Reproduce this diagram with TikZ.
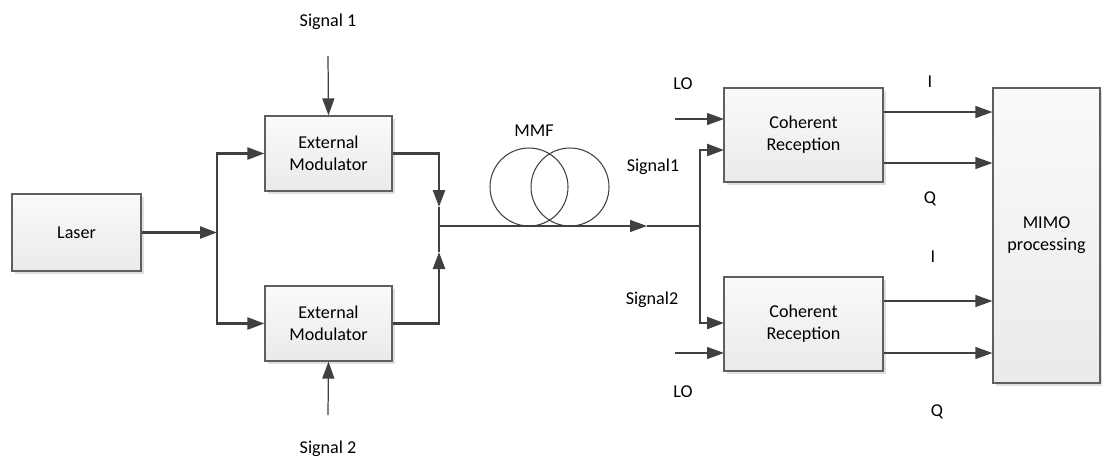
\documentclass[tikz,border=0pt]{standalone}
\usepackage{fontspec}
\setmainfont{Carlito}
\usetikzlibrary{arrows.meta,shadows}
\definecolor{linegray}{RGB}{64,64,64}
\definecolor{boxedge}{RGB}{95,95,95}
\definecolor{boxtop}{RGB}{250,250,250}
\definecolor{boxbottom}{RGB}{234,234,234}

\begin{document}
\begin{tikzpicture}[x=0.02cm, y=-0.02cm,
  >={Triangle[length=0.34cm, width=0.24cm]},
  font=\fontsize{10.3}{12.4}\selectfont,
  block/.style={draw=boxedge, line width=0.7pt, top color=boxtop,
    bottom color=boxbottom, align=center, inner sep=0pt,
    drop shadow={shadow xshift=0.06cm, shadow yshift=-0.06cm,
      fill=black!12, opacity=1}},
  trunk/.style={draw=linegray, line width=1.4pt},
  feed/.style={draw=linegray, line width=0.7pt},
  lbl/.style={inner sep=1pt}]

\useasboundingbox (0,0) rectangle (1102,458);

% ===================================================================
% Units are pixels of the 1102 x 458 sketch, y pointing down
% ===================================================================

% ===== TRANSMITTER =====
\node[block, minimum width=2.58cm, minimum height=1.54cm]
  (laser) at (76.5,232.5) {Laser};
\node[block, minimum width=2.54cm, minimum height=1.5cm]
  (mod1) at (328.5,153.5) {External\\Modulator};
\node[block, minimum width=2.54cm, minimum height=1.5cm]
  (mod2) at (328.5,323.5) {External\\Modulator};

\node[lbl] (sig1) at (328,22) {Signal 1};
\node[lbl] (sig2) at (328,449) {Signal 2};
\coordinate (sig1end) at (328,56);
\coordinate (sig2end) at (328,415);

\coordinate (split1) at (217,232.5);
\coordinate (comb)   at (439,226);
\coordinate (comb1)  at (439,207);
\coordinate (comb2)  at (439,252);

\draw[trunk, ->] (laser.east) -- (split1);
\draw[trunk, ->] (split1) |- (mod1.west);
\draw[trunk, ->] (split1) |- (mod2.west);
\draw[feed, ->] (sig1end) -- (mod1.north);
\draw[feed, ->] (sig2end) -- (mod2.south);

% combiner: arrows stop short of the junction
\draw[trunk, ->] (mod1.east) -| (comb1);
\draw[trunk, ->] (mod2.east) -| (comb2);
\draw[trunk] (comb1) -- (comb2);

% ===== FIBRE =====
\node[lbl] (mmf) at (534,131) {MMF};
\draw[linegray, line width=0.6pt] (529,187) circle[radius=0.78cm];
\draw[linegray, line width=0.6pt] (570,187) circle[radius=0.78cm];

\coordinate (stub)   at (455,226);
\coordinate (fibend) at (647,226);
\coordinate (split2) at (700,226);

\draw[trunk] (comb) -- (stub);
\draw[feed, ->] (stub) -- (fibend);
\draw[trunk] (fibend) -- (split2);

% ===== RECEIVERS =====
\node[block, minimum width=3.18cm, minimum height=1.88cm]
  (rx1) at (803.5,135) {Coherent\\Reception};
\node[block, minimum width=3.18cm, minimum height=1.88cm]
  (rx2) at (803.5,324) {Coherent\\Reception};
\node[block, minimum width=2.14cm, minimum height=5.9cm]
  (mimo) at (1046.5,235.5) {MIMO\\processing};

\node[lbl] (s1) at (653,167) {Signal1};
\node[lbl] (s2) at (652,300) {Signal2};
\node[lbl] (lo1) at (683,84) {LO};
\node[lbl] (lo2) at (683,392) {LO};

\coordinate (rx1sig) at (724,150);
\coordinate (rx2sig) at (724,323);
\coordinate (rx1lo)  at (724,119);
\coordinate (rx2lo)  at (724,353);
\coordinate (lo1in)  at (675,119);
\coordinate (lo2in)  at (675,353);

\draw[trunk, ->] (split2) |- (rx1sig);
\draw[trunk, ->] (split2) |- (rx2sig);
\draw[feed, ->] (lo1in) -- (rx1lo);
\draw[feed, ->] (lo2in) -- (rx2lo);

% I / Q outputs into MIMO block
\foreach \yo/\src in {112/rx1, 163/rx1, 301/rx2, 353/rx2}
  \draw[feed, ->] (\src.east |- 0,\yo) -- (mimo.west |- 0,\yo);

\node[lbl] (i1) at (930,82)  {I};
\node[lbl] (q1) at (930,199) {Q};
\node[lbl] (i2) at (933,257) {I};
\node[lbl] (q2) at (937,412) {Q};

\end{tikzpicture}
\end{document}
